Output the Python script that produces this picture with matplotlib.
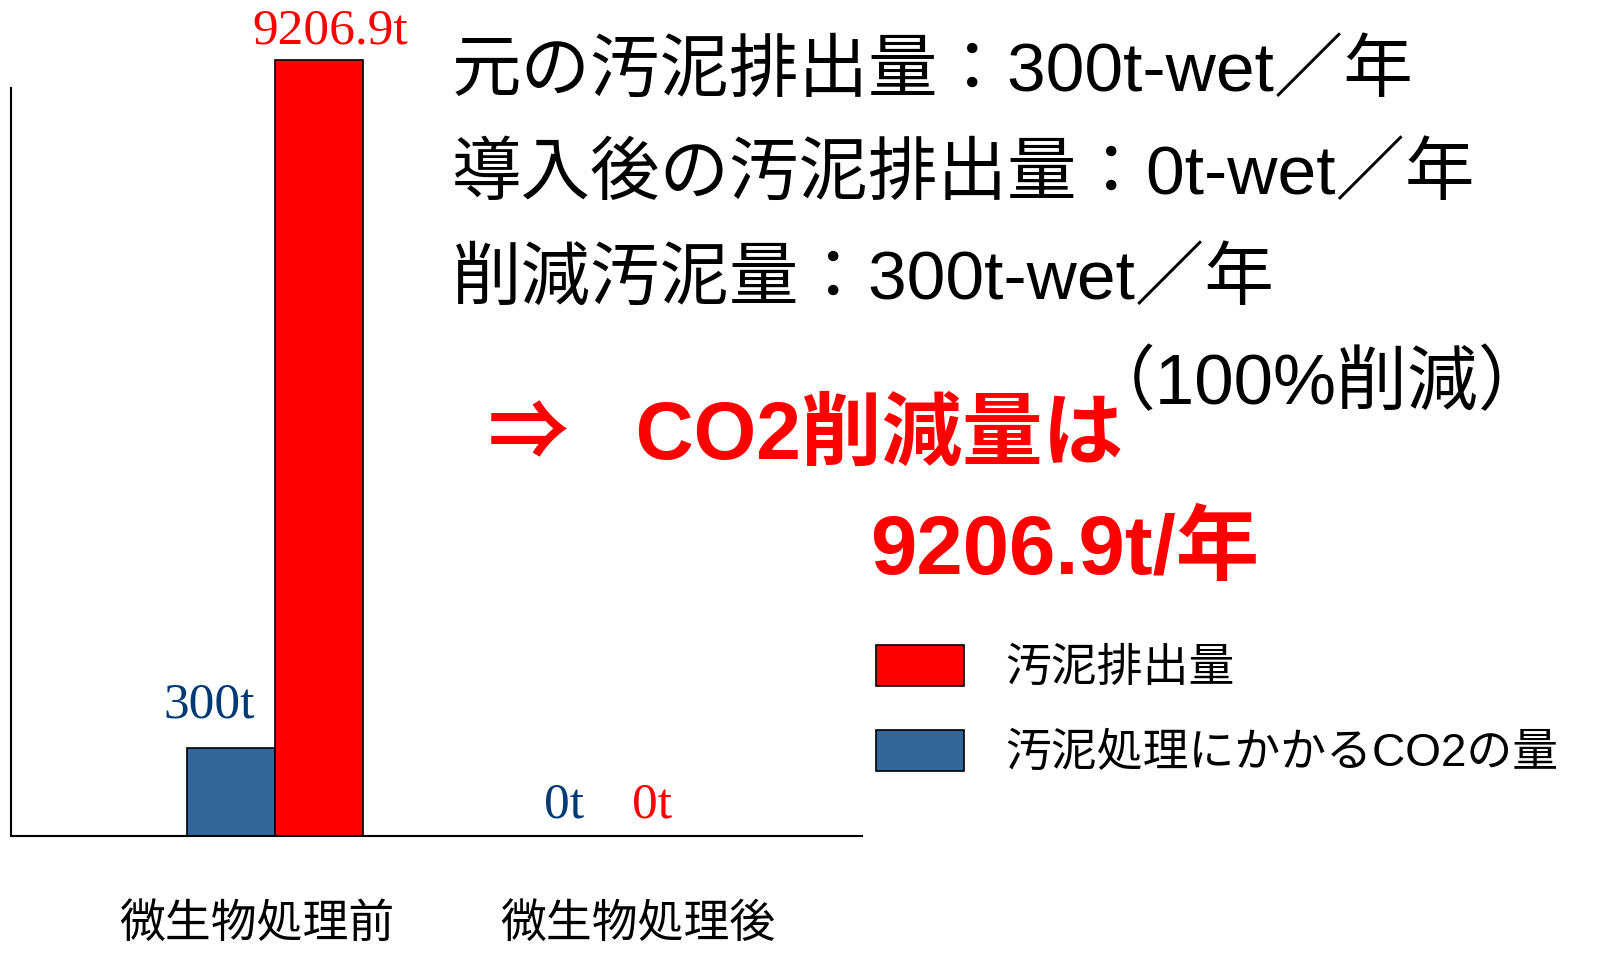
import matplotlib.pyplot as plt

plt.rcParams['font.family'] = ['Liberation Sans', 'Noto Sans CJK JP', 'DejaVu Sans']

# Daten (Balkenhöhen wie im Bild gezeichnet, nicht maßstäblich)
categories = ["微生物処理前", "微生物処理後"]
co2_heights = [88, 0]
sludge_heights = [776, 0]
co2_labels = ["300t", "0t"]
sludge_labels = ["9206.9t", "0t"]
legend_labels = ["汚泥排出量", "汚泥処理にかかるCO2の量"]

text_lines = [
    "元の汚泥排出量：300t-wet／年",
    "導入後の汚泥排出量：0t-wet／年",
    "削減汚泥量：300t-wet／年",
]

RED = "#FF0000"
BLUE = "#336699"
NAVY = "#003A75"

W, H = 1618, 973
fig = plt.figure(figsize=(W / 100, H / 100), dpi=100)
# Achsenbereich in Pixeln: x 11-862, y 88-836
ax = fig.add_axes([11 / W, 1 - 836 / H, (862 - 11) / W, (836 - 88) / H])

x = [0, 1]
bw = 0.264
b_co2 = ax.bar([i - bw / 2 for i in x], co2_heights, bw, color=BLUE,
               edgecolor="black", linewidth=1.2, clip_on=False, zorder=2)
b_sl = ax.bar([i + bw / 2 for i in x], sludge_heights, bw, color=RED,
              edgecolor="black", linewidth=1.2, clip_on=False, zorder=2)

ax.set_xlim(-0.793, 1.763)
ax.set_ylim(0, 748)
for s in ["top", "right"]:
    ax.spines[s].set_visible(False)
ax.spines["left"].set_linewidth(1.5)
ax.spines["bottom"].set_linewidth(1.5)
ax.set_yticks([])
ax.set_xticks([-0.054, 1.09])
ax.set_xticklabels(categories, fontsize=33)
ax.tick_params(axis="x", length=0, pad=48)

# Balkenbeschriftungen
serif = ["Liberation Serif", "DejaVu Serif"]
offs_co2 = [(-22, 31), (0, 18)]
offs_sl = [(11, 16), (0, 18)]
for i in range(2):
    ax.annotate(co2_labels[i], (x[i] - bw / 2, co2_heights[i]),
                xytext=offs_co2[i], textcoords="offset pixels",
                ha="center", va="baseline", color=NAVY, fontsize=37,
                family=serif, annotation_clip=False)
    ax.annotate(sludge_labels[i], (x[i] + bw / 2, sludge_heights[i]),
                xytext=offs_sl[i], textcoords="offset pixels",
                ha="center", va="baseline", color=RED, fontsize=37,
                family=serif, annotation_clip=False)

# Textblock rechts
ys = [72, 175, 280]
for t, y in zip(text_lines, ys):
    fig.text(452 / W, 1 - y / H, t, fontsize=50, va="center", ha="left")

fig.text(1085 / W, 1 - 385 / H, "（100%削減）", fontsize=51,
         va="center", ha="left")
fig.text(488 / W, 1 - 438 / H, "⇒   CO2削減量は", fontsize=58,
         fontweight="bold", color=RED, va="center", ha="left")
fig.text(870 / W, 1 - 552 / H, "9206.9t/年", fontsize=60,
         fontweight="bold", color=RED, va="center", ha="left")

# Legende
fig.legend([b_sl, b_co2], legend_labels, loc="upper left",
           bbox_to_anchor=(876 / W, 1 - 645 / H), frameon=False,
           fontsize=33, handlelength=1.91, handleheight=1.0,
           handletextpad=0.9, labelspacing=0.85, borderpad=0,
           borderaxespad=0)

fig.savefig("out.png", dpi=100)
